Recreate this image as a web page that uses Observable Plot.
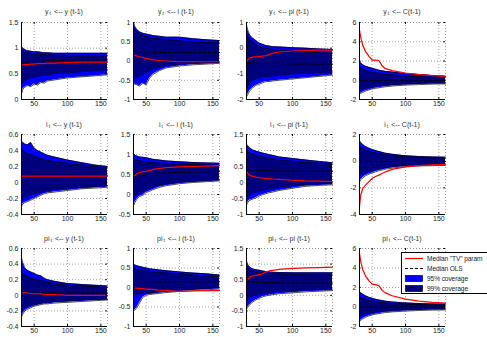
<!DOCTYPE html>
<html><head><meta charset="utf-8">
<script src="https://cdn.jsdelivr.net/npm/d3@7"></script>
<script src="https://cdn.jsdelivr.net/npm/@observablehq/plot@0.6"></script>
<style>
body{margin:0;background:#fff;}
#fig{position:relative;width:487px;height:337px;overflow:hidden;background:#fff;font-family:"Liberation Sans",Arial,sans-serif;}
#fig svg{position:absolute;overflow:visible;}
.ttl{position:absolute;font-size:7px;color:#333;white-space:nowrap;transform:translateX(-50%);line-height:8px;}
.ttl sub{font-size:5px;vertical-align:-1px;margin-left:1px;margin-right:1px;}
#leg{position:absolute;left:401px;top:252px;width:100px;height:40px;border:1px solid #000;background:#fff;font-size:6.6px;color:#222;}
</style></head><body><div id="fig"></div>
<script>
// shared time axis
const X = [31,33,36,40,45,50,55,60,65,70,80,100,120,140,160];
const XDOM = [31,160];
const XTICKS = [50,100,150];

// panel titles
const LHS = ["y","y","y","y","i","i","i","i","pi","pi","pi","pi"];
const RHS = ["y (t-1)","i (t-1)","pi (t-1)","C(t-1)","y (t-1)","i (t-1)","pi (t-1)","C(t-1)","y (t-1)","i (t-1)","pi (t-1)","C(t-1)"];
// y axis domains and ticks
const YDOM = [[0,1.5],[-1,1],[-2,1],[-2,6],[-0.4,0.6],[-0.5,1.5],[-1,1.5],[-4,2],[-0.4,0.6],[-1,1],[-1,1.5],[-2,6]];
const YTICKS = [[0,0.5,1,1.5],[-1,-0.5,0,0.5,1],[-2,-1,0,1],[-2,0,2,4,6],[-0.4,-0.2,0,0.2,0.4,0.6],[-0.5,0,0.5,1,1.5],[-1,-0.5,0,0.5,1,1.5],[-4,-2,0,2],[-0.4,-0.2,0,0.2,0.4,0.6],[-1,-0.5,0,0.5,1],[-1,-0.5,0,0.5,1,1.5],[-2,0,2,4,6]];

// series: oup/olo = outer (light) band edges, iup/ilo = inner (dark) band edges, ols = median OLS, tv = median "TV" param
const p1_oup = [1.03,1.00,0.97,0.95,0.94,0.93,0.93,0.92,0.91,0.91,0.90,0.90,0.90,0.90,0.90];
const p1_iup = [0.97,0.95,0.93,0.91,0.90,0.89,0.88,0.88,0.87,0.87,0.86,0.86,0.85,0.85,0.85];
const p1_ols = [0.70,0.71,0.72,0.73,0.74,0.74,0.75,0.75,0.75,0.76,0.76,0.77,0.77,0.77,0.77];
const p1_tv  = [0.67,0.67,0.68,0.68,0.69,0.69,0.70,0.70,0.70,0.71,0.71,0.72,0.73,0.73,0.73];
const p1_ilo = [0.30,0.34,0.37,0.40,0.42,0.43,0.45,0.46,0.47,0.48,0.50,0.52,0.54,0.56,0.58];
const p1_olo = [0.10,0.20,0.24,0.27,0.25,0.30,0.28,0.33,0.32,0.36,0.38,0.42,0.44,0.46,0.48];

const p2_oup = [1.00,0.90,0.82,0.76,0.72,0.70,0.68,0.66,0.65,0.64,0.62,0.62,0.58,0.55,0.53];
const p2_iup = [0.88,0.82,0.76,0.70,0.66,0.63,0.61,0.59,0.58,0.57,0.55,0.52,0.50,0.48,0.47];
const p2_ols = [0.25,0.25,0.24,0.24,0.24,0.23,0.23,0.23,0.22,0.22,0.22,0.22,0.22,0.22,0.22];
const p2_tv  = [0.17,0.15,0.13,0.11,0.09,0.07,0.05,0.03,0.02,0.01,0.00,-0.02,-0.02,-0.02,-0.02];
const p2_ilo = [-0.50,-0.45,-0.42,-0.40,-0.35,-0.30,-0.25,-0.22,-0.18,-0.15,-0.12,-0.08,-0.06,-0.05,-0.04];
const p2_olo = [-0.60,-0.60,-0.62,-0.65,-0.58,-0.62,-0.45,-0.35,-0.30,-0.25,-0.18,-0.13,-0.10,-0.08,-0.06];

const p3_oup = [0.90,0.70,0.50,0.40,0.30,0.20,0.15,0.10,0.08,0.06,0.05,0.02,0.00,-0.03,-0.05];
const p3_iup = [0.55,0.45,0.35,0.25,0.15,0.08,0.03,0.00,-0.03,-0.05,-0.08,-0.12,-0.15,-0.18,-0.20];
const p3_ols = [-0.55,-0.56,-0.57,-0.58,-0.58,-0.59,-0.60,-0.60,-0.58,-0.59,-0.60,-0.62,-0.62,-0.62,-0.62];
const p3_tv  = [-0.54,-0.45,-0.38,-0.35,-0.34,-0.33,-0.31,-0.29,-0.25,-0.20,-0.15,-0.11,-0.09,-0.08,-0.08];
const p3_ilo = [-1.60,-1.45,-1.35,-1.25,-1.20,-1.15,-1.12,-1.10,-1.10,-1.08,-1.05,-1.00,-0.98,-0.95,-0.93];
const p3_olo = [-1.90,-1.80,-1.65,-1.55,-1.45,-1.40,-1.35,-1.30,-1.30,-1.28,-1.25,-1.20,-1.15,-1.10,-1.05];

const p4_oup = [2.00,1.80,1.60,1.45,1.35,1.25,1.15,1.05,0.98,0.92,0.85,0.70,0.60,0.50,0.42];
const p4_iup = [1.45,1.30,1.15,1.02,0.92,0.84,0.77,0.71,0.66,0.62,0.55,0.45,0.38,0.32,0.28];
const p4_ols = [0.00,-0.02,-0.03,-0.04,-0.05,-0.05,-0.05,-0.05,-0.05,-0.05,-0.05,-0.05,-0.05,-0.05,-0.05];
const p4_tv  = [5.20,4.40,3.60,3.00,2.50,2.10,2.10,2.05,1.50,1.20,1.00,0.75,0.60,0.48,0.40];
const p4_ilo = [-1.10,-1.00,-0.90,-0.82,-0.74,-0.67,-0.62,-0.57,-0.53,-0.50,-0.45,-0.38,-0.33,-0.30,-0.28];
const p4_olo = [-1.45,-1.35,-1.25,-1.12,-1.00,-0.90,-0.84,-0.78,-0.72,-0.68,-0.60,-0.50,-0.45,-0.40,-0.38];

const p5_oup = [0.52,0.50,0.48,0.47,0.50,0.43,0.40,0.38,0.36,0.34,0.32,0.28,0.25,0.22,0.20];
const p5_iup = [0.42,0.40,0.38,0.36,0.35,0.33,0.31,0.30,0.29,0.28,0.26,0.24,0.22,0.20,0.18];
const p5_ols = [0.09,0.09,0.09,0.09,0.09,0.09,0.09,0.09,0.09,0.09,0.09,0.09,0.09,0.09,0.09];
const p5_tv  = [0.08,0.08,0.08,0.08,0.08,0.08,0.08,0.08,0.08,0.08,0.08,0.08,0.08,0.08,0.08];
const p5_ilo = [-0.22,-0.20,-0.18,-0.17,-0.15,-0.14,-0.13,-0.12,-0.11,-0.10,-0.09,-0.07,-0.06,-0.05,-0.04];
const p5_olo = [-0.30,-0.27,-0.25,-0.24,-0.22,-0.20,-0.18,-0.16,-0.14,-0.13,-0.12,-0.10,-0.08,-0.07,-0.06];

const p6_oup = [1.02,0.98,0.96,0.94,0.93,0.92,0.90,0.88,0.87,0.86,0.84,0.82,0.80,0.79,0.78];
const p6_iup = [0.90,0.88,0.86,0.84,0.83,0.82,0.81,0.80,0.79,0.78,0.77,0.76,0.75,0.74,0.73];
const p6_ols = [0.42,0.44,0.46,0.48,0.50,0.51,0.52,0.52,0.53,0.53,0.54,0.55,0.56,0.57,0.58];
const p6_tv  = [0.45,0.48,0.52,0.55,0.57,0.58,0.60,0.62,0.64,0.65,0.67,0.69,0.70,0.71,0.72];
const p6_ilo = [-0.10,-0.05,0.00,0.03,0.08,0.12,0.16,0.19,0.22,0.24,0.27,0.31,0.33,0.35,0.37];
const p6_olo = [-0.28,-0.20,-0.12,-0.05,-0.02,0.05,0.08,0.12,0.15,0.18,0.22,0.27,0.30,0.32,0.34];

const p7_oup = [1.20,1.15,1.08,1.02,0.98,0.95,0.92,0.90,0.87,0.85,0.80,0.75,0.70,0.66,0.62];
const p7_iup = [1.00,0.97,0.92,0.88,0.85,0.82,0.80,0.78,0.76,0.74,0.71,0.66,0.62,0.60,0.58];
const p7_ols = [0.40,0.40,0.39,0.39,0.38,0.38,0.38,0.37,0.37,0.37,0.36,0.36,0.35,0.35,0.35];
const p7_tv  = [0.35,0.28,0.22,0.20,0.17,0.15,0.14,0.13,0.12,0.11,0.10,0.07,0.05,0.04,0.03];
const p7_ilo = [-0.50,-0.45,-0.40,-0.35,-0.30,-0.27,-0.24,-0.22,-0.20,-0.18,-0.15,-0.10,-0.06,-0.04,-0.02];
const p7_olo = [-0.70,-0.62,-0.55,-0.52,-0.48,-0.42,-0.38,-0.35,-0.32,-0.30,-0.25,-0.18,-0.12,-0.09,-0.07];

const p8_oup = [1.55,1.40,1.25,1.10,0.98,0.88,0.80,0.72,0.66,0.60,0.52,0.40,0.35,0.32,0.30];
const p8_iup = [1.15,1.05,0.95,0.85,0.76,0.68,0.62,0.56,0.51,0.47,0.41,0.32,0.28,0.25,0.23];
const p8_ols = [-0.02,-0.02,-0.02,-0.02,-0.02,-0.02,-0.02,-0.02,-0.02,-0.02,-0.02,-0.02,-0.02,-0.02,-0.02];
const p8_tv  = [-3.40,-2.50,-2.05,-1.80,-1.55,-1.30,-1.15,-1.05,-0.92,-0.80,-0.62,-0.43,-0.33,-0.27,-0.24];
const p8_ilo = [-1.15,-1.05,-0.95,-0.85,-0.76,-0.68,-0.62,-0.56,-0.51,-0.47,-0.41,-0.32,-0.28,-0.25,-0.23];
const p8_olo = [-1.55,-1.40,-1.25,-1.10,-0.98,-0.88,-0.80,-0.72,-0.66,-0.60,-0.52,-0.40,-0.36,-0.34,-0.32];

const p9_oup = [0.48,0.42,0.35,0.32,0.30,0.28,0.26,0.25,0.22,0.20,0.18,0.15,0.14,0.13,0.12];
const p9_iup = [0.30,0.28,0.26,0.24,0.22,0.21,0.20,0.19,0.18,0.17,0.15,0.13,0.12,0.11,0.10];
const p9_ols = [0.05,0.05,0.05,0.05,0.04,0.04,0.04,0.04,0.04,0.04,0.03,0.03,0.03,0.03,0.03];
const p9_tv  = [0.03,0.03,0.03,0.03,0.02,0.02,0.02,0.02,0.01,0.01,0.01,0.00,0.00,0.00,0.00];
const p9_ilo = [-0.20,-0.18,-0.16,-0.14,-0.13,-0.12,-0.11,-0.10,-0.09,-0.09,-0.08,-0.07,-0.06,-0.05,-0.05];
const p9_olo = [-0.28,-0.24,-0.20,-0.18,-0.16,-0.14,-0.13,-0.12,-0.11,-0.11,-0.10,-0.09,-0.08,-0.07,-0.06];

const p10_oup = [0.60,0.58,0.56,0.54,0.52,0.50,0.48,0.47,0.46,0.45,0.43,0.40,0.37,0.35,0.32];
const p10_iup = [0.50,0.48,0.47,0.45,0.44,0.42,0.41,0.40,0.39,0.38,0.37,0.35,0.32,0.30,0.28];
const p10_ols = [0.16,0.16,0.16,0.16,0.15,0.15,0.15,0.15,0.15,0.15,0.15,0.15,0.15,0.15,0.15];
const p10_tv  = [0.00,-0.01,-0.02,-0.02,-0.03,-0.04,-0.05,-0.05,-0.06,-0.07,-0.08,-0.10,-0.09,-0.08,-0.08];
const p10_ilo = [-0.20,-0.18,-0.17,-0.16,-0.15,-0.15,-0.14,-0.13,-0.12,-0.11,-0.09,-0.06,-0.04,-0.02,0.00];
const p10_olo = [-0.60,-0.58,-0.52,-0.40,-0.25,-0.20,-0.18,-0.17,-0.16,-0.15,-0.13,-0.10,-0.08,-0.06,-0.04];

const p11_oup = [1.10,0.98,0.90,0.85,0.82,0.80,0.78,0.76,0.75,0.74,0.73,0.72,0.72,0.72,0.72];
const p11_iup = [0.95,0.88,0.82,0.78,0.76,0.74,0.72,0.71,0.70,0.69,0.68,0.67,0.66,0.65,0.65];
const p11_ols = [0.45,0.45,0.44,0.43,0.42,0.42,0.41,0.41,0.40,0.40,0.40,0.39,0.39,0.39,0.39];
const p11_tv  = [0.45,0.52,0.58,0.62,0.64,0.66,0.70,0.75,0.78,0.80,0.83,0.86,0.88,0.89,0.90];
const p11_ilo = [-0.20,-0.12,-0.06,-0.02,0.01,0.04,0.06,0.08,0.10,0.11,0.13,0.15,0.17,0.19,0.20];
const p11_olo = [-0.45,-0.38,-0.30,-0.22,-0.15,-0.10,-0.05,-0.02,0.00,0.02,0.05,0.08,0.11,0.13,0.15];

const p12_oup = [1.60,1.45,1.30,1.15,1.00,0.90,0.80,0.72,0.66,0.60,0.52,0.42,0.36,0.32,0.30];
const p12_iup = [1.10,1.00,0.90,0.80,0.70,0.62,0.56,0.50,0.46,0.42,0.36,0.30,0.25,0.22,0.20];
const p12_ols = [0.00,0.00,0.00,0.00,0.00,0.00,0.00,0.00,0.00,0.00,0.00,0.00,0.00,0.00,0.00];
const p12_tv  = [5.50,4.60,3.80,3.20,2.70,2.35,2.30,2.20,1.70,1.45,1.15,0.80,0.60,0.48,0.40];
const p12_ilo = [-1.00,-0.90,-0.80,-0.70,-0.62,-0.56,-0.50,-0.46,-0.42,-0.39,-0.34,-0.28,-0.24,-0.21,-0.20];
const p12_olo = [-1.50,-1.35,-1.20,-1.05,-0.92,-0.82,-0.74,-0.68,-0.62,-0.57,-0.50,-0.42,-0.36,-0.32,-0.30];

const SERIES = [
  [p1_oup,p1_iup,p1_ols,p1_tv,p1_ilo,p1_olo],
  [p2_oup,p2_iup,p2_ols,p2_tv,p2_ilo,p2_olo],
  [p3_oup,p3_iup,p3_ols,p3_tv,p3_ilo,p3_olo],
  [p4_oup,p4_iup,p4_ols,p4_tv,p4_ilo,p4_olo],
  [p5_oup,p5_iup,p5_ols,p5_tv,p5_ilo,p5_olo],
  [p6_oup,p6_iup,p6_ols,p6_tv,p6_ilo,p6_olo],
  [p7_oup,p7_iup,p7_ols,p7_tv,p7_ilo,p7_olo],
  [p8_oup,p8_iup,p8_ols,p8_tv,p8_ilo,p8_olo],
  [p9_oup,p9_iup,p9_ols,p9_tv,p9_ilo,p9_olo],
  [p10_oup,p10_iup,p10_ols,p10_tv,p10_ilo,p10_olo],
  [p11_oup,p11_iup,p11_ols,p11_tv,p11_ilo,p11_olo],
  [p12_oup,p12_iup,p12_ols,p12_tv,p12_ilo,p12_olo]
];

const LEGEND = ['Median "TV" param','Median OLS','95% coverage','99% coverage'];

// layout
const COL_L = [21,133,246,359], COL_W = 86;
const ROW_T = [22,134,248], ROW_H = [77,80,78];
const TITLE_Y = [8,121,235];
const ML = 24, MR = 6, MT = 4, MB = 11;
const LIGHT = "#0000ff", DARK = "#00007c";

const fig = document.getElementById("fig");

SERIES.forEach((s, k) => {
  const r = Math.floor(k/4), c = k%4;
  const [oup,iup,ols,tv,ilo,olo] = s;
  const data = X.map((x,i)=>({x, oup:oup[i], iup:iup[i], ols:ols[i], tv:tv[i], ilo:ilo[i], olo:olo[i]}));
  const dom = YDOM[k], yt = YTICKS[k];
  const tk = (dom[1]-dom[0])*0.025, xk = (XDOM[1]-XDOM[0])*0.02;
  const edge = {stroke:"#000", strokeWidth:0.7};
  const grid = {stroke:"#8a8a8a", strokeDasharray:"1,2", strokeWidth:0.8};
  const chart = Plot.plot({
    width: COL_W+ML+MR, height: ROW_H[r]+MT+MB,
    marginLeft: ML, marginRight: MR, marginTop: MT, marginBottom: MB,
    x: {domain: XDOM, label: null},
    y: {domain: dom, label: null},
    style: {fontSize:"7px", fontFamily:'"Liberation Sans", Arial, sans-serif', color:"#222", background:"transparent", overflow:"visible"},
    marks: [
      Plot.ruleY(yt, grid),
      Plot.ruleX(XTICKS, grid),
      Plot.ruleX([XDOM[1]], grid),
      Plot.ruleY([dom[1]], grid),
      Plot.areaY(data, {x:"x", y1:"olo", y2:"oup", fill:LIGHT}),
      Plot.areaY(data, {x:"x", y1:"ilo", y2:"iup", fill:DARK}),
      Plot.line(data, {x:"x", y:"oup", ...edge}),
      Plot.line(data, {x:"x", y:"olo", ...edge}),
      Plot.line(data, {x:"x", y:"iup", ...edge}),
      Plot.line(data, {x:"x", y:"ilo", ...edge}),
      Plot.line(data, {x:"x", y:"ols", stroke:"#000", strokeWidth:1, strokeDasharray:"3,2"}),
      Plot.line(data, {x:"x", y:"tv", stroke:"#ff0000", strokeWidth:1.2}),
      Plot.ruleX([XDOM[0]], {stroke:"#000", strokeWidth:1}),
      Plot.ruleY([dom[0]], {stroke:"#000", strokeWidth:1}),
      Plot.ruleX(XTICKS, {y1:dom[0], y2:dom[0]+tk, stroke:"#000"}),
      Plot.ruleX(XTICKS, {y1:dom[1], y2:dom[1]-tk, stroke:"#000"}),
      Plot.ruleY(yt, {x1:XDOM[0], x2:XDOM[0]+xk, stroke:"#000"}),
      Plot.ruleY(yt, {x1:XDOM[1], x2:XDOM[1]-xk, stroke:"#000"}),
      Plot.axisX(XTICKS, {tickSize:0, tickPadding:2, tickFormat:d=>String(d), fill:"#222", label:null}),
      Plot.axisY(yt, {tickSize:0, tickPadding:3, tickFormat:d=>String(d), fill:"#222", label:null})
    ]
  });
  chart.style.left = (COL_L[c]-ML)+"px";
  chart.style.top = (ROW_T[r]-MT)+"px";
  fig.appendChild(chart);

  const t = document.createElement("div");
  t.className = "ttl";
  t.style.left = (COL_L[c]+COL_W/2)+"px";
  t.style.top = TITLE_Y[r]+"px";
  t.innerHTML = LHS[k]+"<sub>t</sub> &lt;-- "+RHS[k];
  fig.appendChild(t);
});

// legend
const leg = document.createElement("div");
leg.id = "leg";
const swatch = [
  '<line x1="0" y1="3.5" x2="18" y2="3.5" stroke="#ff0000" stroke-width="1.2"/>',
  '<line x1="0" y1="3.5" x2="18" y2="3.5" stroke="#000" stroke-width="1.2" stroke-dasharray="3,2"/>',
  '<rect x="0.5" y="0.5" width="17" height="6" fill="'+LIGHT+'" stroke="#000" stroke-width="0.7"/>',
  '<rect x="0.5" y="0.5" width="17" height="6" fill="'+DARK+'" stroke="#000" stroke-width="0.7"/>'
];
leg.innerHTML = LEGEND.map((txt,i)=>
  '<div style="position:absolute;left:3px;top:'+(1.5+i*10)+'px;height:7px;white-space:nowrap;line-height:7px;">'+
  '<svg width="18" height="7" style="position:static;vertical-align:top">'+swatch[i]+'</svg>'+
  '<span style="margin-left:4px;vertical-align:top;letter-spacing:-0.1px">'+txt+'</span></div>').join("");
fig.appendChild(leg);
</script>
</body></html>
